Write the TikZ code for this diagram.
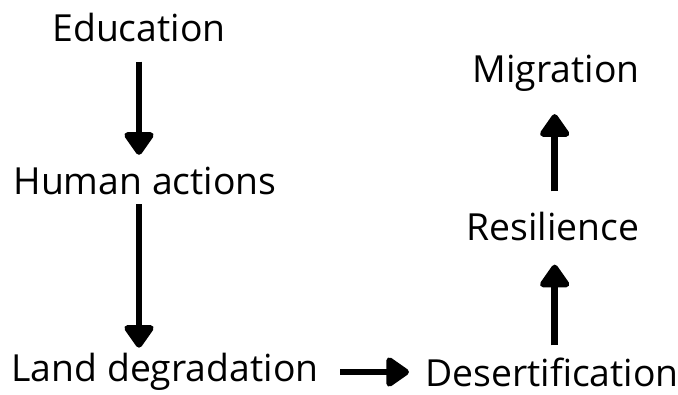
\documentclass[tikz,border=0pt]{standalone}
\usepackage{fontspec}
\setmainfont{Open Sans}
\usetikzlibrary{arrows.meta}

\begin{document}
\begin{tikzpicture}[x=0.75pt,y=-0.75pt,font=\fontsize{28}{33}\selectfont,
  lbl/.style={inner sep=0pt,anchor=center},
  flow/.style={-{Triangle[width=25pt,length=19pt,round]},line width=5pt}]
\useasboundingbox (0,0) rectangle (678,394);
\node[lbl] (edu) at (139,27) {Education};
\node[lbl] (hum) at (145,181) {Human actions};
\node[lbl] (land) at (165,372) {Land degradation};
\node[lbl] (des) at (552,372) {Desertification};
\node[lbl] (res) at (553,226) {Resilience};
\node[lbl] (mig) at (556,73) {Migration};
\draw[flow,shorten <=15pt,shorten >=9pt] (edu.south) -- (edu.south |- hum.north);
\draw[flow,shorten <=7pt,shorten >=4pt] (edu.south |- hum.south) -- (edu.south |- land.north);
\draw[flow,shorten <=16pt,shorten >=12pt] (land.east) -- (land.east -| des.west);
\draw[flow,shorten <=9pt,shorten >=18pt] ([xshift=2pt]des.north) -- ([xshift=2pt]des.north |- res.south);
\draw[flow,shorten <=15pt,shorten >=17pt] ([xshift=2pt]des.north |- res.north) -- ([xshift=2pt]des.north |- mig.south);
\end{tikzpicture}
\end{document}
